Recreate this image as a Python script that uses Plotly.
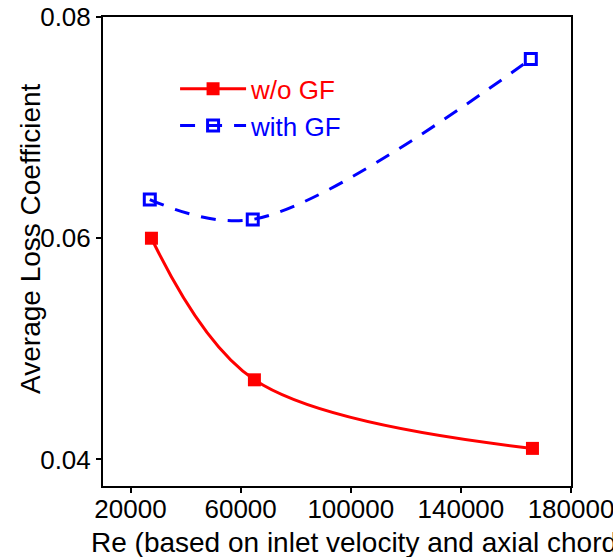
import plotly.graph_objects as go

# Reynolds numbers (based on inlet velocity and axial chord)
re_without_gf = [27600, 65000, 166000]
re_with_gf = [27000, 64400, 165400]

# Average loss coefficient
loss_without_gf = [0.0600, 0.0472, 0.0410]
loss_with_gf = [0.0635, 0.0617, 0.0762]

x_ticks = [20000, 60000, 100000, 140000, 180000]
y_ticks = [0.04, 0.06, 0.08]

FONT = "Liberation Sans, Arial, sans-serif"
RED = "#ff0000"
BLUE = "#0000ff"

fig = go.Figure()

fig.add_trace(go.Scatter(
    x=re_without_gf, y=loss_without_gf,
    name='<span style="color:#ff0000">w/o GF</span>',
    mode="lines+markers",
    line=dict(color=RED, width=3, shape="spline", smoothing=1.0),
    marker=dict(symbol="square", size=13, color=RED),
))

fig.add_trace(go.Scatter(
    x=re_with_gf, y=loss_with_gf,
    name='<span style="color:#0000ff">with GF</span>',
    mode="lines+markers",
    line=dict(color=BLUE, width=3, shape="spline", smoothing=1.0, dash="15px,12px"),
    marker=dict(symbol="square-open", size=11, color=BLUE, line=dict(width=3, color=BLUE)),
))

axis_common = dict(
    showline=True, linecolor="black", linewidth=2, mirror=True,
    ticks="outside", ticklen=5, tickwidth=2, tickcolor="black",
    showgrid=False, zeroline=False, automargin=False,
    ticklabeloverflow="allow",
    tickfont=dict(family=FONT, size=26, color="black"),
)

fig.update_xaxes(range=[10000, 180000], tickvals=x_ticks,
                 ticktext=[str(v) for v in x_ticks],
                 ticklabelstandoff=-6, **axis_common)
fig.update_yaxes(range=[0.0376, 0.08], tickvals=y_ticks,
                 ticktext=[f"{v:.2f}" for v in y_ticks], **axis_common)

fig.add_annotation(
    text="Re (based on inlet velocity and axial chord)",
    xref="paper", yref="paper", x=-0.030, y=-0.1215,
    xanchor="left", yanchor="middle", showarrow=False,
    font=dict(family=FONT, size=28, color="black"),
)
fig.add_annotation(
    text="Average Loss Coefficient",
    xref="paper", yref="paper", x=-0.154, y=0.5267,
    xanchor="center", yanchor="middle", textangle=-90, showarrow=False,
    font=dict(family=FONT, size=28, color="black"),
)

fig.update_layout(
    width=613, height=557,
    margin=dict(l=103, r=42, t=17, b=71),
    paper_bgcolor="white", plot_bgcolor="white",
    showlegend=True,
    legend=dict(
        x=0.154, y=0.897, xanchor="left", yanchor="top",
        bgcolor="rgba(0,0,0,0)", borderwidth=0,
        itemwidth=66,
        font=dict(family=FONT, size=26),
    ),
)

fig.write_html("out.html")
